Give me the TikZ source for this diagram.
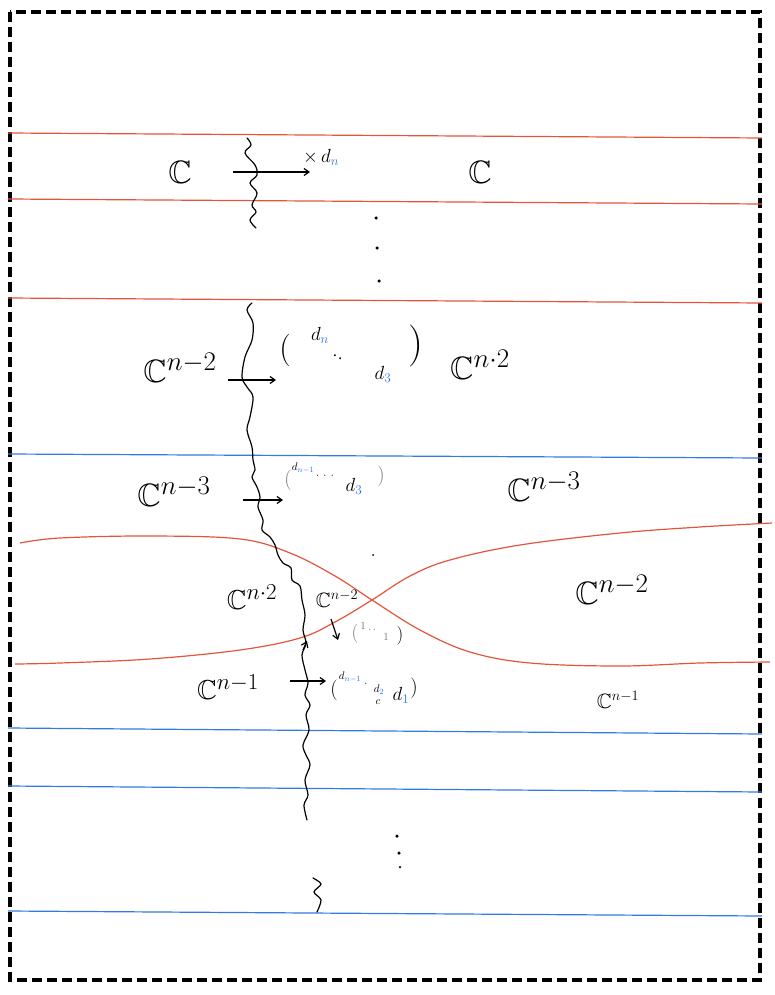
\documentclass[tikz,border=0pt]{standalone}
\usepackage{amssymb}
\usetikzlibrary{arrows.meta}
\definecolor{redl}{RGB}{228,84,60}
\definecolor{bluel}{RGB}{52,122,228}
\definecolor{bluet}{RGB}{45,115,245}
\definecolor{grayt}{RGB}{120,120,120}
\begin{document}
\begin{tikzpicture}[x=1pt,y=-1pt,
  border/.style={line width=4pt,dash pattern=on 10pt off 5pt},
  redline/.style={redl,line width=1.2pt},
  blueline/.style={bluel,line width=1.2pt},
  wavy/.style={black,line width=1.2pt,line join=round,line cap=round},
  arr/.style={black,line width=1.2pt,-{Straight Barb[length=5pt,width=7pt]}},
  bigC/.style={inner sep=0pt,font=\fontsize{24.88}{30}\selectfont,scale=1.3},
  midC/.style={inner sep=0pt,font=\fontsize{24.88}{30}\selectfont,scale=1.1},
  smallC/.style={inner sep=0pt,font=\fontsize{20.74}{25}\selectfont},
  lab/.style={inner sep=0pt,font=\fontsize{17.28}{21}\selectfont,scale=1.1},
  tiny/.style={inner sep=0pt,font=\fontsize{10.95}{13}\selectfont},
  paren/.style={inner sep=0pt,font=\fontsize{24.88}{30}\selectfont,scale=1.3},
  sparen/.style={inner sep=0pt,font=\fontsize{20.74}{25}\selectfont},
  dotn/.style={circle,fill=black,inner sep=0pt,minimum size=3.5pt}]
\useasboundingbox (0,0) rectangle (774,995);
\draw[border] (10,12) rectangle (760,980);

% straight lines
\draw[redline] (8,133) -- (762,138);
\draw[redline] (8,199) -- (762,204);
\draw[redline] (8,298) -- (762,303);
\draw[blueline] (8,454) -- (762,458);
\draw[blueline] (8,728) -- (762,734);
\draw[blueline] (8,786) -- (762,792);
\draw[blueline] (8,911) -- (762,916);

% crossing red curves
\draw[redline] plot[smooth,tension=0.6] coordinates {(20,543) (60,538) (150,536) (240,539) (290,553) (335,576) (372,600) (420,630) (470,652) (530,663) (620,666) (700,663) (770,662)};
\draw[redline] plot[smooth,tension=0.6] coordinates {(15,664) (60,663) (150,659) (240,650) (300,638) (335,622) (372,600) (410,576) (450,560) (520,545) (620,533) (700,527) (772,523)};

% wavy cut lines
\draw[wavy] plot[smooth,tension=0.6] coordinates {(247,138) (251,145) (245,153) (255,165) (257,175) (250,183) (257,193) (252,205) (256,212) (250,220) (256,228)};
\draw[wavy] plot[smooth,tension=0.55] coordinates {(252,303) (247,310) (253,323) (252,340) (245,357) (242,377) (247,387) (253,397) (250,417) (247,430) (252,447) (253,460) (255,470) (252,477) (257,487) (260,497) (258,507) (263,520) (262,530) (270,537) (275,545) (278,555) (283,563) (291,568) (292,580) (300,586) (302,600) (305,615) (303,630) (306,643) (302,655) (305,670) (308,683) (305,695) (310,705) (306,715) (309,730) (303,745) (306,755) (310,765) (305,780) (308,795) (304,805) (307,820)};
\draw[wavy] plot[smooth,tension=0.5] coordinates {(313,878) (321,884) (314,892) (321,900) (317,912)};
\draw[arr] (303,650) -- (307,641);

% arrows
\draw[arr] (233,172) -- (310,172);
\draw[arr] (228,380) -- (276,380);
\draw[arr] (243,500) -- (283,500);
\draw[arr] (290,681) -- (326,681);
\draw[arr] (331,619) -- (338,640);

% top band
\node[bigC] (c1) at (180,172) {$\mathbb{C}$};
\node[bigC] (c2) at (480,172) {$\mathbb{C}$};
\node[lab,anchor=west] (xdn) at (303,157) {$\times\, d_{\color{bluet}n}$};
\node[dotn] (v1) at (376,218) {};
\node[dotn] (v2) at (377,248) {};
\node[dotn] (v3) at (379,281) {};

% C^{n-2} band
\node[bigC] (c3) at (180,368) {$\mathbb{C}^{n-2}$};
\node[bigC] (c4) at (480,365) {$\mathbb{C}^{n\cdot 2}$};
\node[paren] (p1) at (285,350) {(};
\node[lab] (m1a) at (320,335) {$d_{\color{bluet}n}$};
\node[lab] (m1b) at (338,358) {$\cdot_{\textstyle\cdot}$};
\node[lab] (m1c) at (383,374) {$d_{\color{bluet}3}$};
\node[paren,scale=1.3] (p2) at (416,346) {)};

% C^{n-3} band
\node[bigC] (c5) at (174,492) {$\mathbb{C}^{n-3}$};
\node[bigC] (c6) at (544,487) {$\mathbb{C}^{n-3}$};
\node[sparen,text=grayt] (p3) at (288,480) {(};
\node[tiny] (m2a) at (303,468) {$d_{\color{bluet}n-1}$};
\node[tiny] (m2b) at (325,476) {$\cdot\,\cdot\,\cdot$};
\node[lab] (m2c) at (354,486) {$d_{\color{bluet}3}$};
\node[sparen,text=grayt] (p4) at (381,476) {)};
\node[dotn,minimum size=2pt] (v4) at (373,555) {};

% crossing region
\node[midC] (c7) at (252,597) {$\mathbb{C}^{n\cdot 2}$};
\node[smallC] (c8) at (337,599) {$\mathbb{C}^{n-2}$};
\node[bigC] (c9) at (612,590) {$\mathbb{C}^{n-2}$};
\node[lab,text=grayt] (p5) at (355,634) {(};
\node[tiny,text=grayt] (m3a) at (363,626) {1};
\node[tiny,text=grayt] (m3b) at (372,630) {$\cdot\,\cdot$};
\node[tiny,text=grayt] (m3c) at (386,637) {1};
\node[lab] (p6) at (400,636) {)};

% C^{n-1} band
\node[midC] (c10) at (228,687) {$\mathbb{C}^{n-1}$};
\node[smallC] (c11) at (618,700) {$\mathbb{C}^{n-1}$};
\node[sparen] (p7) at (334,690) {(};
\node[tiny] (m4a) at (350,677) {$d_{\color{bluet}n-1}$};
\node[tiny] (m4b) at (366,684) {$\cdot$};
\node[tiny] (m4c) at (379,690) {$d_{\color{bluet}2}$};
\node[tiny] (m4d) at (378,702) {$c$};
\node[lab] (m4e) at (401,695) {$d_{\color{bluet}1}$};
\node[sparen] (p8) at (414,688) {)};

% bottom dots
\node[dotn] (v5) at (397,836) {};
\node[dotn] (v6) at (399,853) {};
\node[dotn,minimum size=2.5pt] (v7) at (400,867) {};
\end{tikzpicture}
\end{document}
